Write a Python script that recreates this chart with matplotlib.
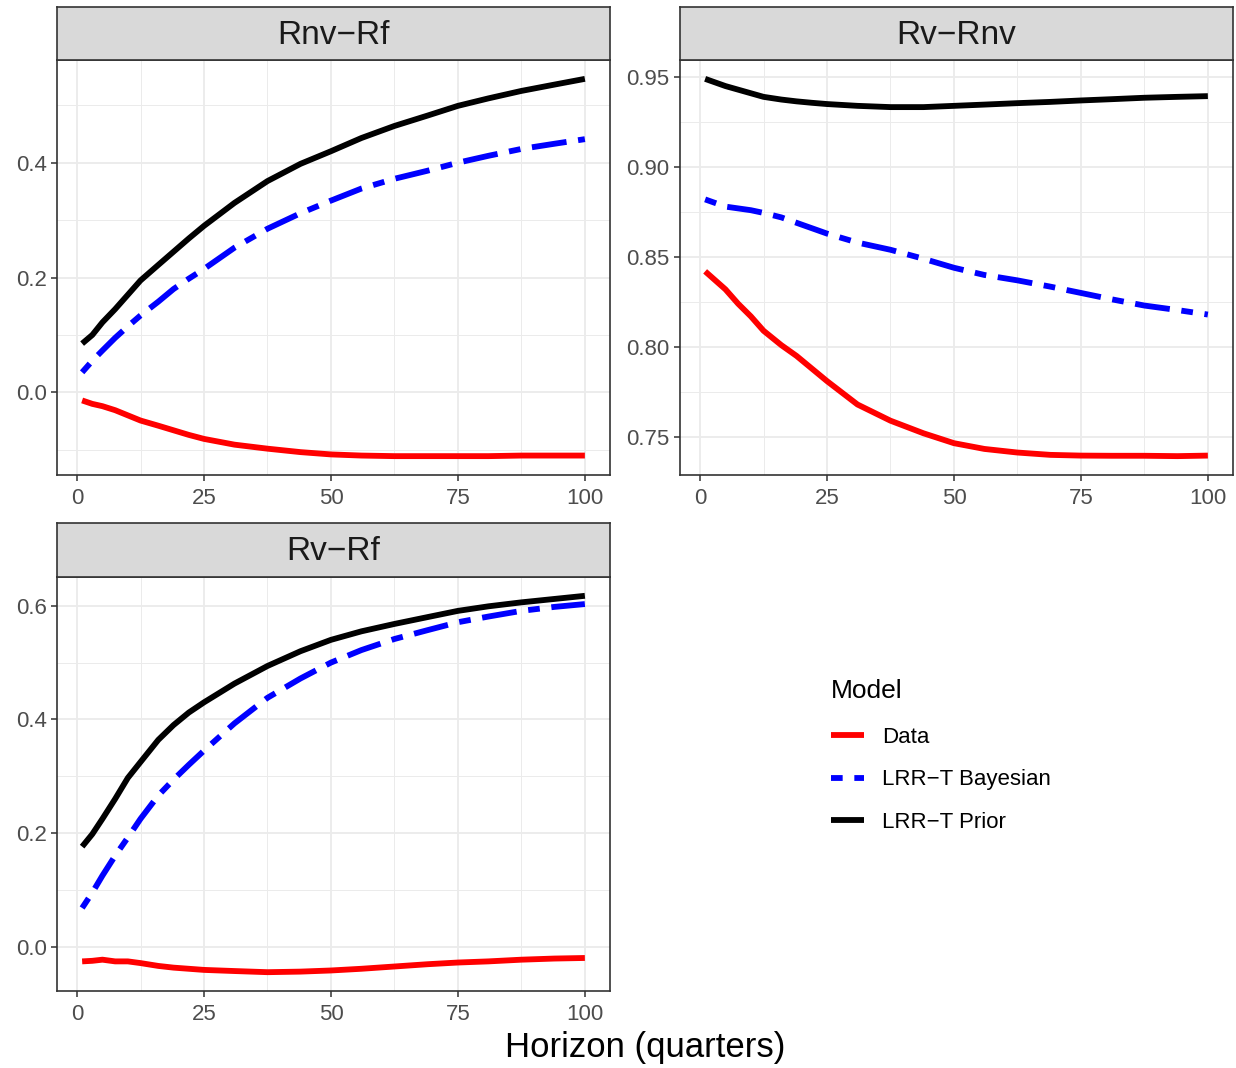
import matplotlib
matplotlib.use("Agg")
import matplotlib.pyplot as plt
from matplotlib.lines import Line2D
from matplotlib.ticker import MultipleLocator, FormatStrFormatter

plt.rcParams['font.family'] = ['Liberation Sans', 'DejaVu Sans']

# horizons (quarters) where values were read
horizon = [1, 3, 5, 7.5, 10, 12.5, 16, 19, 22, 25, 31, 37.5, 44, 50, 56,
           62.5, 69, 75, 81, 87.5, 94, 100]

# Rnv-Rf
rnvrf_data = [-0.014, -0.020, -0.024, -0.031, -0.040, -0.049, -0.058, -0.066,
              -0.074, -0.081, -0.091, -0.098, -0.104, -0.108, -0.110, -0.111,
              -0.111, -0.111, -0.111, -0.110, -0.110, -0.110]
rnvrf_bayes = [0.035, 0.055, 0.073, 0.095, 0.115, 0.134, 0.158, 0.180, 0.198,
               0.215, 0.252, 0.285, 0.312, 0.334, 0.355, 0.372, 0.386, 0.400,
               0.412, 0.424, 0.433, 0.441]
rnvrf_prior = [0.085, 0.100, 0.122, 0.145, 0.170, 0.195, 0.222, 0.245, 0.268,
               0.290, 0.330, 0.368, 0.398, 0.420, 0.443, 0.464, 0.482, 0.499,
               0.512, 0.525, 0.536, 0.546]

# Rv-Rnv
rvrnv_data = [0.842, 0.837, 0.832, 0.824, 0.817, 0.809, 0.801, 0.795, 0.788,
              0.781, 0.768, 0.759, 0.752, 0.7465, 0.7433, 0.7413, 0.740,
              0.7396, 0.7395, 0.7395, 0.7393, 0.7396]
rvrnv_bayes = [0.882, 0.880, 0.878, 0.877, 0.876, 0.8745, 0.872, 0.869, 0.866,
               0.863, 0.858, 0.854, 0.849, 0.844, 0.840, 0.837, 0.8335, 0.830,
               0.8265, 0.823, 0.8205, 0.818]
rvrnv_prior = [0.949, 0.947, 0.945, 0.943, 0.941, 0.939, 0.9375, 0.9365,
               0.9357, 0.935, 0.934, 0.9333, 0.9333, 0.934, 0.9347, 0.9355,
               0.9362, 0.937, 0.9377, 0.9385, 0.939, 0.9394]

# Rv-Rf
rvrf_data = [-0.026, -0.025, -0.023, -0.026, -0.026, -0.029, -0.034, -0.037,
             -0.039, -0.041, -0.043, -0.045, -0.044, -0.042, -0.039, -0.035,
             -0.031, -0.028, -0.026, -0.023, -0.021, -0.020]
rvrf_bayes = [0.068, 0.095, 0.125, 0.160, 0.192, 0.225, 0.266, 0.294, 0.320,
              0.345, 0.393, 0.438, 0.472, 0.500, 0.522, 0.5415, 0.557, 0.571,
              0.581, 0.591, 0.598, 0.603]
rvrf_prior = [0.176, 0.198, 0.225, 0.260, 0.297, 0.325, 0.364, 0.390, 0.412,
              0.430, 0.463, 0.494, 0.520, 0.540, 0.555, 0.568, 0.580, 0.591,
              0.599, 0.606, 0.612, 0.6175]

models = ['Data', 'LRR\u2212T Bayesian', 'LRR\u2212T Prior']
colors = ['#FF0000', '#0000FF', '#000000']
styles = ['-', (0, (2, 2, 6, 2)), '-']

panels = [
    ('Rnv\u2212Rf', [rnvrf_data, rnvrf_bayes, rnvrf_prior], 0.2, '%.1f'),
    ('Rv\u2212Rnv', [rvrnv_data, rvrnv_bayes, rvrnv_prior], 0.05, '%.2f'),
    ('Rv\u2212Rf', [rvrf_data, rvrf_bayes, rvrf_prior], 0.2, '%.1f'),
]

W, H = 1236, 1068
fig = plt.figure(figsize=(W / 100, H / 100), dpi=100)

# panel boxes in pixels: left, top, right, bottom ; strip top
boxes = [(57, 60, 610, 475, 7), (680, 60, 1233, 475, 7), (57, 577, 610, 991, 523)]

lw = 4.2
for (title, series, step, fmt), (l, t, r, b, st) in zip(panels, boxes):
    ax = fig.add_axes([l / W, (H - b) / H, (r - l) / W, (b - t) / H])
    for y, c, ls in zip(series, colors, styles):
        ax.plot(horizon, y, color=c, linestyle=ls, lw=lw, solid_capstyle='butt',
                dash_capstyle='butt', solid_joinstyle='round', zorder=3)
    ax.margins(x=0.05, y=0.05)
    ax.xaxis.set_major_locator(MultipleLocator(25))
    ax.xaxis.set_minor_locator(MultipleLocator(12.5))
    ax.yaxis.set_major_locator(MultipleLocator(step))
    ax.yaxis.set_minor_locator(MultipleLocator(step / 2))
    ax.yaxis.set_major_formatter(FormatStrFormatter(fmt))
    ax.grid(which='major', color='#EBEBEB', lw=1.3, zorder=0)
    ax.grid(which='minor', color='#EBEBEB', lw=0.7, zorder=0)
    ax.set_axisbelow(True)
    for s in ax.spines.values():
        s.set_color('#333333')
        s.set_linewidth(1.2)
    ax.tick_params(which='major', length=4.5, width=1.1, color='#333333',
                   labelsize=16, labelcolor='#4D4D4D', pad=3)
    ax.tick_params(axis='x', which='major', pad=4.5)
    ax.tick_params(which='minor', length=0)

    # facet strip
    sax = fig.add_axes([l / W, (H - t) / H, (r - l) / W, (t - st) / H])
    sax.set_facecolor('#D9D9D9')
    sax.set_xticks([])
    sax.set_yticks([])
    for s in sax.spines.values():
        s.set_color('#333333')
        s.set_linewidth(1.2)
    sax.text(0.5, 0.47, title, ha='center', va='center', fontsize=24,
             color='#1A1A1A', transform=sax.transAxes)

fig.text(645 / W, 1 - 1048 / H, 'Horizon (quarters)', ha='center', va='center',
         fontsize=25, color='black')

handles = [Line2D([], [], color=c, linestyle=ls, lw=lw, solid_capstyle='butt',
                  dash_capstyle='butt') for c, ls in zip(colors, styles)]
leg = fig.legend(handles, models, title='Model', loc='upper left',
                 bbox_to_anchor=(831 / W, 1 - 679 / H), frameon=False,
                 fontsize=16, title_fontsize=19, handlelength=1.5,
                 handletextpad=0.8, labelspacing=0.975, borderpad=0,
                 borderaxespad=0)
leg._legend_box.align = 'left'
# a bit more room between title and first entry
leg._legend_box.sep = 17

fig.savefig('out.png', dpi=100, facecolor='white')
